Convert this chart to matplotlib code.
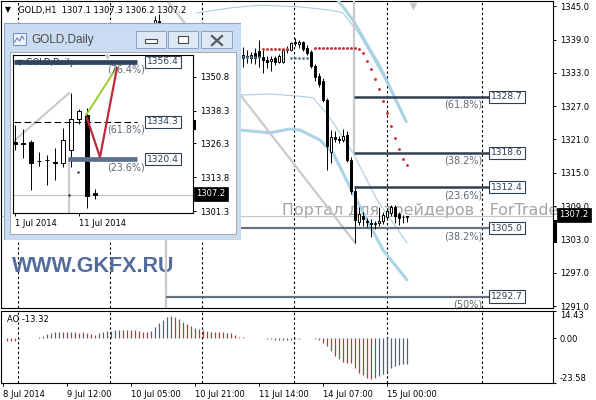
import matplotlib
matplotlib.use("Agg")
import matplotlib.pyplot as plt
from matplotlib.patches import Rectangle
import matplotlib.transforms as mtransforms

plt.rcParams['font.family'] = ['DejaVu Sans']

# ======================= DATA =======================
price_ticks = [1345.0, 1339.0, 1333.0, 1327.0, 1321.0, 1315.0, 1309.0, 1303.0, 1297.0, 1291.0]
bid_price = 1307.2
time_labels = ["8 Jul 2014", "9 Jul 12:00", "10 Jul 05:00", "10 Jul 21:00",
               "11 Jul 14:00", "14 Jul 07:00", "15 Jul 00:00"]
time_label_bars = [0, 16, 32, 48, 64, 80, 96]
grid_bars = [3.75, 26.75, 49.75, 72.75, 96.0, 119.75]

# H1 candles (only the visible ones)
h1_bars = [38, 39] + list(range(60, 102))
h1_open = [1341.0, 1342.4,
           1335.7, 1336.0, 1335.6, 1336.6, 1336.9, 1335.9, 1335.4, 1335.1, 1335.6, 1335.0,
           1335.0, 1337.1, 1337.2, 1338.3, 1338.2, 1338.5, 1337.5, 1336.7, 1334.3, 1332.4,
           1331.6, 1328.1, 1318.8, 1321.4, 1321.0, 1320.9, 1321.8, 1317.3, 1311.8, 1306.2,
           1307.3, 1306.4, 1306.0, 1305.8, 1306.0, 1306.4, 1307.0, 1307.8, 1308.9, 1307.5,
           1307.0, 1307.1]
h1_high = [1343.3, 1343.6,
           1337.7, 1337.2, 1336.8, 1337.4, 1338.9, 1337.1, 1336.0, 1336.0, 1336.1, 1336.4,
           1337.3, 1337.8, 1338.6, 1339.2, 1338.9, 1338.8, 1338.0, 1337.1, 1334.6, 1333.0,
           1332.0, 1328.5, 1322.7, 1322.6, 1321.7, 1322.9, 1322.5, 1317.8, 1312.2, 1308.8,
           1308.0, 1306.9, 1306.6, 1306.4, 1308.9, 1307.9, 1308.4, 1309.2, 1309.2, 1307.9,
           1307.4, 1307.3]
h1_low = [1338.0, 1338.5,
          1334.1, 1334.8, 1334.8, 1334.6, 1334.1, 1332.9, 1333.9, 1333.3, 1334.4, 1334.7,
          1334.7, 1336.6, 1336.9, 1337.9, 1337.5, 1337.0, 1336.3, 1333.9, 1331.5, 1330.5,
          1327.8, 1315.5, 1316.8, 1320.5, 1320.4, 1320.5, 1317.0, 1311.2, 1302.4, 1305.6,
          1305.4, 1305.3, 1303.4, 1304.8, 1305.5, 1305.8, 1306.5, 1307.2, 1306.0, 1305.6,
          1306.0, 1306.2]
h1_close = [1342.6, 1341.2,
            1336.2, 1335.8, 1336.2, 1335.6, 1335.9, 1335.3, 1335.0, 1335.5, 1335.0, 1336.0,
            1337.1, 1337.3, 1338.3, 1338.6, 1338.6, 1337.3, 1336.6, 1334.2, 1332.3, 1331.0,
            1328.2, 1319.8, 1321.5, 1321.0, 1320.9, 1321.6, 1317.3, 1311.8, 1306.5, 1307.6,
            1306.6, 1306.1, 1305.8, 1306.0, 1306.4, 1307.4, 1308.2, 1308.9, 1307.3, 1306.9,
            1307.0, 1307.2]

# Parabolic-style dots
sar_blue_bars = [60, 61, 62, 63, 64, 72, 73, 74, 75, 76]
sar_blue_vals = [1335.8, 1335.8, 1335.8, 1335.8, 1335.8, 1335.6, 1335.6, 1335.6, 1335.6, 1335.6]
sar_red_bars = [65, 66, 67, 68, 69, 70, 71, 78, 79, 80, 81, 82, 83, 84, 85, 86, 87, 88,
                89, 90, 91, 92, 93, 94, 95, 96, 97, 98, 99, 100, 101]
sar_red_vals = [1337.3] * 7 + [1337.4] * 11 + [1337.3, 1336.6, 1335.1, 1333.7, 1331.9, 1330.1,
                                               1328.0, 1325.8, 1323.5, 1321.3, 1319.2, 1317.4, 1316.4]

# band lines (traced vertices: bar index, price)
thin_up_bars = [48.5, 56.75, 64.25, 74.25, 81.75, 85.0, 89.25, 96.0, 101.0]
thin_up_vals = [1343.8, 1344.7, 1345.2, 1344.9, 1344.3, 1343.8, 1339.8, 1331.2, 1324.1]
thick_up_bars = [81.0, 83.75, 87.5, 94.25, 100.75]
thick_up_vals = [1347.5, 1346.1, 1342.5, 1334.1, 1324.3]
thin_lo_bars = [59.25, 66.75, 74.25, 77.5, 81.25, 87.5, 93.5, 101.0]
thin_lo_vals = [1329.0, 1329.2, 1328.8, 1328.5, 1325.4, 1318.6, 1310.1, 1302.4]
thick_lo_bars = [59.25, 66.75, 71.75, 74.25, 79.25, 82.5, 86.75, 91.0, 95.0, 101.0]
thick_lo_vals = [1322.7, 1322.2, 1322.9, 1322.7, 1320.9, 1318.6, 1312.4, 1306.5, 1301.1, 1295.7]

# gray objects
trend_bars = [41.5, 88.0]
trend_vals = [1345.6, 1302.4]
vline_a = (87.75, 1318.6)      # bar, lower end (goes to top)
vline_b = (40.75, 1305.0)      # bar, upper end (goes to bottom)

# Fibonacci levels (main chart)
fibo_a_levels = [1328.7, 1318.6, 1312.4]
fibo_a_names = ["(61.8%)", "(38.2%)", "(23.6%)"]
fibo_a_span = (87.75, 121.75)
fibo_b_levels = [1305.0, 1292.7]
fibo_b_names = ["(38.2%)", "(50%)"]
fibo_b_span = (40.75, 121.75)

# Awesome oscillator, bars 1..101
ao_bars = list(range(1, 102))
ao_values = [-1.3, -1.4, -1.5, -0.2, 0.1, 0.2, 0.2, 0.3, 0.5,
             1.2, 2.5, 3.0, 3.1, 3.2, 3.3, 3.1, 3.2, 3.1, 3.0, 3.1,
             2.9, 2.2, 2.0, 2.6, 3.3, 3.8, 4.1, 4.4, 4.5, 4.3,
             4.4, 4.3, 4.2, 4.0, 3.6, 3.2, 3.9, 6.1, 7.9, 9.7,
             11.1, 11.9, 11.5, 10.2, 8.6, 7.4, 6.5, 5.6, 4.8, 4.4,
             3.9, 3.5, 3.5, 3.3, 3.3, 3.0, 2.6, 1.9, 0.9, 0.6,
             0.4, 0.3, 0.2, 0.1, 0.05, -0.1, -0.5, -0.7, -0.8, -0.9,
             -1.0, -1.0, -0.6, -0.2, 0.1, 0.2, 0.1, -0.3, -0.9, -2.3,
             -4.0, -6.7, -9.3, -11.1, -12.5, -12.8, -13.2, -15.5, -18.1, -19.5,
             -20.8, -21.6, -20.8, -19.9, -19.0, -17.3, -15.5, -14.6, -14.2, -13.7, -13.32]
ao_max, ao_min = 14.43, -23.58

# Daily inset
d_idx = list(range(11))
d_open = [1326.7, 1326.2, 1326.9, 1319.7, 1320.3, 1319.6, 1319.1, 1323.8, 1335.2, 1336.8, 1308.0]
d_high = [1333.0, 1331.5, 1327.5, 1323.0, 1322.0, 1324.5, 1331.8, 1344.8, 1339.0, 1339.2, 1309.3]
d_low = [1323.8, 1320.8, 1309.1, 1318.0, 1310.9, 1312.8, 1317.4, 1317.7, 1333.4, 1302.3, 1305.6]
d_close = [1326.0, 1326.0, 1319.1, 1319.9, 1320.0, 1318.9, 1327.5, 1335.2, 1338.2, 1306.8, 1307.2]
d_ticks = [1350.8, 1338.3, 1326.3, 1313.8, 1301.3]
d_date_idx = [0, 8]
d_date_labels = ["1 Jul 2014", "11 Jul 2014"]
d_fibo_levels = [1356.4, 1334.3, 1320.4]
d_fibo_names = ["(76.4%)", "(61.8%)", "(23.6%)"]
d_fibo_start = [-0.075, -0.075, 6.675]
d_fibo_end = 15.3
d_green_x = [8.93, 12.8]
d_green_y = [1336.7, 1354.5]
d_red_x = [9.05, 10.675, 12.8]
d_red_y = [1335.6, 1321.2, 1354.1]
d_trend_x = [0.05, 6.8]
d_trend_y = [1327.5, 1344.8]
d_vline = (6.8, 1320.4)
d_dots_x = [7.89, 6.84]
d_dots_y = [1315.6, 1307.2]

# ======================= FIGURE =======================
W, H = 596, 400
fig = plt.figure(figsize=(W / 100, H / 100), dpi=100)


def fig_rect(x0, y0, x1, y1):
    return [x0 / W, 1 - y1 / H, (x1 - x0) / W, (y1 - y0) / H]


def draw_candles(ax, xs, o, h, l, c, width, lw, minh, z=5):
    for xi, oi, hi, li, ci in zip(xs, o, h, l, c):
        ax.vlines(xi, li, hi, color='black', lw=lw, zorder=z)
        lo = min(oi, ci)
        hb = max(abs(ci - oi), minh)
        fc = 'white' if ci > oi else 'black'
        ax.add_patch(Rectangle((xi - width / 2, lo), width, hb, facecolor=fc,
                               edgecolor='black', lw=lw, zorder=z + 0.1))


def offs(tr, dx=0, dy=0):
    return mtransforms.offset_copy(tr, fig=fig, x=dx, y=dy, units='dots')


GRID_LS = (0, (2.2, 2.2))

# ---------------- main chart ----------------
ax = fig.add_axes(fig_rect(1, 1, 553, 308), zorder=1)
ax.set_xlim(-0.5, 137.5)
ax.set_ylim(1290.64, 1345.95)
ax.set_xticks([])
ax.yaxis.tick_right()
ax.set_yticks(price_ticks)
ax.set_yticklabels([f"{p:.1f}" for p in price_ticks])
ax.tick_params(axis='y', length=2.5, width=0.7, pad=2.5, labelsize=6, colors='black')
for s in ax.spines.values():
    s.set_linewidth(0.8)

for g in grid_bars:
    ax.axvline(g, color='black', lw=0.8, linestyle=GRID_LS, zorder=1)

t = ax.text(282 / W, 1 - 211 / H, "Портал для трейдеров - ForTrade", transform=fig.transFigure,
            fontsize=11.4, color='#a4a4a4', ha='left', va='center', zorder=1.5)
t.set_clip_box(ax.bbox)
ax.text(12 / W, 1 - 266 / H, "WWW.GKFX.RU", transform=fig.transFigure, fontsize=15.5,
        family='Liberation Sans', fontweight='bold', color='#546c9c', ha='left', va='center',
        zorder=2)

ax.axhline(bid_price, color='#c4c4c4', lw=0.8, zorder=2)

# bands
ax.plot(thick_up_bars, thick_up_vals, color='#aad3e6', lw=2.2, zorder=3, solid_capstyle='round')
ax.plot(thick_lo_bars, thick_lo_vals, color='#aad3e6', lw=2.2, zorder=3, solid_capstyle='round')
ax.plot(thin_up_bars, thin_up_vals, color='#a6cfe0', lw=0.8, zorder=3)
ax.plot(thin_lo_bars, thin_lo_vals, color='#a6cfe0', lw=0.8, zorder=3)

# gray objects
ax.plot(trend_bars, trend_vals, color='#cacaca', lw=1.6, zorder=3)
ax.vlines(vline_a[0], vline_a[1], 1346.5, color='#cacaca', lw=1.6, zorder=3)
ax.vlines(vline_b[0], 1290.0, vline_b[1], color='#cacaca', lw=1.6, zorder=3)

# fibo
for lev in fibo_a_levels:
    ax.hlines(lev, fibo_a_span[0], fibo_a_span[1], color='#2f4050', lw=1.8, zorder=3.5)
for lev in fibo_b_levels:
    ax.hlines(lev, fibo_b_span[0], fibo_b_span[1], color='#66707c', lw=1.6, zorder=3.5)
for lev, name in list(zip(fibo_a_levels, fibo_a_names)) + list(zip(fibo_b_levels, fibo_b_names)):
    ax.text(119.9, lev, name, ha='right', va='top', fontsize=7, color='#5f6a74',
            transform=offs(ax.transData, 0, -3), zorder=7)
    ax.text(126.0, lev, f"{lev:.1f}", ha='center', va='center', fontsize=6.6, color='#2f4050',
            zorder=7, bbox=dict(boxstyle='square,pad=0.18', fc='white', ec='#2f4050', lw=0.8))

# candles
draw_candles(ax, h1_bars, h1_open, h1_high, h1_low, h1_close, 0.62, 0.7, 0.12)

# sar dots
ax.plot(sar_blue_bars, sar_blue_vals, 'o', ms=1.9, color='#4f6e8e', mec='none', zorder=6)
ax.plot(sar_red_bars, sar_red_vals, 'o', ms=2.1, color='#c8323c', mec='none', zorder=6)

# chart shift marker
ax.plot([102.5], [0.985], marker='v', ms=6, color='#c8c8c8', mec='none',
        transform=mtransforms.blended_transform_factory(ax.transData, ax.transAxes),
        clip_on=False, zorder=7)

# current price label & marker on the axis
bt = mtransforms.blended_transform_factory(ax.transAxes, ax.transData)
ax.add_patch(Rectangle((1.0, 1302.4), 4 / 552, 4.1, transform=bt, fc='black', ec='none',
                       clip_on=False, zorder=8))
ax.text(1.0, bid_price, f"{bid_price:.1f}", transform=offs(bt, 6, 1.5), ha='left', va='center',
        fontsize=6, color='white', clip_on=False, zorder=9,
        bbox=dict(boxstyle='square,pad=0.3', fc='black', ec='black', lw=0.5))

# header
fig.text(5 / W, 1 - 10 / H, "▼", fontsize=5.5, ha='left', va='center', color='black')
fig.text(18 / W, 1 - 10 / H,
         f"GOLD,H1  {h1_open[-1]:.1f} {h1_high[-1]:.1f} {h1_low[-1]:.1f} {h1_close[-1]:.1f}",
         fontsize=6, ha='left', va='center', color='black', zorder=5)

# ---------------- AO panel ----------------
ax2 = fig.add_axes(fig_rect(1, 311, 553, 383), zorder=1)
ax2.set_xlim(-0.5, 137.5)
ax2.set_ylim(ao_min, ao_max)
for s in ax2.spines.values():
    s.set_linewidth(0.8)
for g in grid_bars:
    ax2.axvline(g, color='black', lw=0.8, linestyle=GRID_LS, zorder=1)
colors = []
prev = None
for v in ao_values:
    colors.append('#56616c' if (prev is not None and v > prev) else '#b73b3f')
    prev = v
ax2.vlines(ao_bars, 0, ao_values, colors=colors, lw=0.9, zorder=3)
ax2.yaxis.tick_right()
ax2.set_yticks([ao_max, 0.0, ao_min])
ax2.set_yticklabels([f"{ao_max:.2f}", "0.00", f"{ao_min:.2f}"])
ax2.tick_params(axis='y', length=2.5, width=0.7, pad=2.5, labelsize=6)
lbls = ax2.get_yticklabels()
lbls[0].set_va('top')
lbls[2].set_va('bottom')
ax2.set_xticks(time_label_bars)
ax2.set_xticklabels(time_labels, ha='left')
ax2.tick_params(axis='x', length=2.5, width=0.7, pad=2.5, labelsize=6)
ax2.text(6 / 552, 0.88, f"AO {ao_values[-1]:.2f}", transform=ax2.transAxes, fontsize=6,
         ha='left', va='center', color='black')

# ---------------- inset window ----------------
win = fig.add_axes(fig_rect(3, 22, 241, 240), zorder=10)
win.set_xlim(3, 241)
win.set_ylim(240, 22)
win.axis('off')
win.add_patch(Rectangle((3.5, 22.5), 237, 217, fc='#c9dcf2', ec='#8aa8cc', lw=0.8))
win.add_patch(Rectangle((10, 52), 226, 182, fc='white', ec='#9b9b9b', lw=0.6))
win.add_patch(Rectangle((12.5, 33), 13, 12, fc='#eef4fb', ec='#6f8fb8', lw=0.7))
win.plot([14.5, 17, 19.5, 22, 24], [42, 38, 41, 36, 39], color='#4a78b0', lw=0.7)
win.text(31, 40, "GOLD,Daily", fontsize=8.5, family='Liberation Sans', color='#4a4a4a',
         va='center', ha='left')
for x0, w in [(136, 30), (168, 30), (201, 31)]:
    win.add_patch(Rectangle((x0, 31), w, 17, fc='#dde8f5', ec='#8aa2c0', lw=0.7))
win.add_patch(Rectangle((145, 39), 12, 4, fc='white', ec='#4a4a4a', lw=0.8))
win.add_patch(Rectangle((178, 36), 10, 7, fc='white', ec='#4a4a4a', lw=0.8))
win.plot([212, 222], [36, 45], color='#5a5a5a', lw=1.6)
win.plot([212, 222], [45, 36], color='#5a5a5a', lw=1.6)

ia = fig.add_axes(fig_rect(13, 55, 193, 213), zorder=11)
ia.set_xlim(-0.2, 22.3)
ia.set_ylim(1300.6, 1358.9)
ia.set_facecolor('white')
for s in ia.spines.values():
    s.set_linewidth(0.8)
ia.yaxis.tick_right()
ia.set_yticks(d_ticks)
ia.set_yticklabels([f"{p:.1f}" for p in d_ticks])
ia.tick_params(axis='y', length=2.5, width=0.7, pad=2.5, labelsize=6)
ia.set_xticks(d_date_idx)
ia.set_xticklabels(d_date_labels, ha='left')
ia.tick_params(axis='x', length=2.5, width=0.7, pad=2, labelsize=6)

ia.axhline(bid_price, color='#c4c4c4', lw=0.8, zorder=1)
ia.plot(d_trend_x, d_trend_y, color='#cccccc', lw=1.6, zorder=1.5)
ia.vlines(d_vline[0], 1299.0, d_vline[1], color='#cccccc', lw=1.6, zorder=1.5)
ia.text(0.3, 1356.2, "▼ GOLD,Daily", fontsize=6, color='#222222', ha='left', va='center',
        zorder=2)
draw_candles(ia, d_idx, d_open, d_high, d_low, d_close, 0.5, 0.7, 0.25, z=3)
ia.plot(d_dots_x, d_dots_y, 'o', ms=1.8, color='#333333', mec='none', zorder=4)
ia.hlines(d_fibo_levels[0], d_fibo_start[0], d_fibo_end, color='#2e4463', lw=3.4, zorder=5)
ia.hlines(d_fibo_levels[1], d_fibo_start[1], d_fibo_end, color='black', lw=0.8,
          linestyles=[(0, (6, 3))], zorder=5)
ia.hlines(d_fibo_levels[2], d_fibo_start[2], d_fibo_end, color='#5d6f8f', lw=3.4, zorder=5)
ia.plot(d_green_x, d_green_y, color='#9acd32', lw=1.4, zorder=6)
ia.plot(d_red_x, d_red_y, color='#c0283c', lw=1.6, zorder=6)
for lev, name in zip(d_fibo_levels, d_fibo_names):
    ia.text(16.3, lev, name, ha='right', va='top', fontsize=6.9, color='#5f6a74',
            transform=offs(ia.transData, 0, -3), zorder=7)
    ia.text(18.55, lev, f"{lev:.1f}", ha='center', va='center', fontsize=6.6, color='#2f4050',
            zorder=7, bbox=dict(boxstyle='square,pad=0.18', fc='white', ec='#2f4050', lw=0.8))
ia.plot([11.55], [0.985], marker='v', ms=5, color='#c8c8c8', mec='none',
        transform=mtransforms.blended_transform_factory(ia.transData, ia.transAxes),
        clip_on=False, zorder=7)
ibt = mtransforms.blended_transform_factory(ia.transAxes, ia.transData)
ia.add_patch(Rectangle((1.0, 1331.2), 3 / 180, 3.7, transform=ibt, fc='black', ec='none',
                       clip_on=False, zorder=8))
ia.text(1.0, bid_price, f"{bid_price:.1f}", transform=offs(ibt, 3, 1.5), ha='left', va='center',
        fontsize=6, color='white', clip_on=False, zorder=9,
        bbox=dict(boxstyle='square,pad=0.3', fc='black', ec='black', lw=0.5))

fig.savefig("out.png", dpi=100)
